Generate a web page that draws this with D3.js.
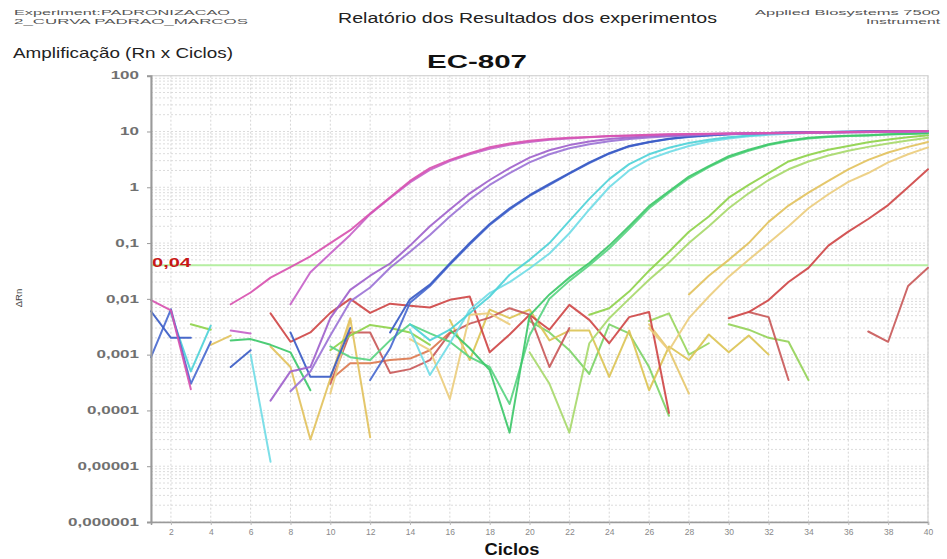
<!DOCTYPE html>
<html>
<head>
<meta charset="utf-8">
<script src="https://cdn.jsdelivr.net/npm/d3@7"></script>
<style>
  body { margin: 0; background: #fff; }
  text { font-family: "Liberation Sans", Arial, sans-serif; }
</style>
</head>
<body>
<svg id="chart" width="947" height="559"></svg>
<script>
// Amplification plot: ΔRn per cycle (log scale), one line per well
const n = null;

const cycles = [1,2,3,4,5,6,7,8,9,10,11,12,13,14,15,16,17,18,19,20,
                21,22,23,24,25,26,27,28,29,30,31,32,33,34,35,36,37,38,39,40];

const mag1 = [0.0095,0.0062,0.00024,n, 0.008,0.013,0.024,0.037,0.058,0.1,
              0.17,0.34,0.66,1.3,2.2, 3.1,4.1,5.2,6.1,6.8,
              7.3,7.7,8.0,8.3,8.5, 8.7,8.9,9.0,9.1,9.2,
              9.3,9.4,9.5,9.6,9.7, 9.8,9.9,10.0,10.1,10.2];
const mag2 = [n,n,n,n, 0.0027,0.0024,n,0.008,0.03,0.065,
              0.14,0.33,0.64,1.22,2.05, 2.95,3.9,4.9,5.8,6.5,
              7.1,7.5,7.9,8.2,8.4, 8.6,8.8,8.9,9.0,9.1,
              9.2,9.3,9.4,9.5,9.6, 9.7,9.8,9.9,10.0,10.1];
const pur1 = [n,n,n,n, n,n,0.00015,0.0005,0.0006,0.0045,
              0.0145,0.026,0.043,0.09,0.2, 0.4,0.78,1.35,2.2,3.4,
              4.6,5.7,6.6,7.3,7.8, 8.2,8.5,8.8,9.0,9.2,
              9.3,9.4,9.5,9.6,9.7, 9.8,9.9,10.0,10.1,10.2];
const pur2 = [n,n,n,n, n,n,n,0.00022,0.0005,0.0022,
              0.009,0.016,0.036,0.07,0.14, 0.3,0.6,1.1,1.8,2.8,
              3.9,5.0,5.9,6.7,7.3, 7.8,8.2,8.5,8.8,9.0,
              9.1,9.2,9.3,9.4,9.5, 9.6,9.7,9.8,9.9,10.0];
const blue1 = [0.006,0.002,0.002,n, 0.0006,0.0012,n,0.0025,0.0004,0.0004,
               0.003,n,0.0025,0.0098,0.018, 0.043,0.1,0.22,0.42,0.72,
               1.15,1.8,2.8,4.1,5.5, 6.5,7.4,8.1,8.6,8.9,
               9.2,9.4,9.6,9.7,9.8, 9.9,10.0,10.1,10.1,10.2];
const blue2 = [0.0009,0.0065,0.0003,0.0017, n,n,n,n,n,n,
               n,0.00035,0.0013,0.0085,0.017, 0.041,0.095,0.21,0.4,0.7,
               1.1,1.75,2.7,4.0,5.4, 6.4,7.3,8.0,8.5,8.9,
               9.2,9.4,9.5,9.7,9.8, 9.9,10.0,10.0,10.1,10.2];
const cyan1 = [n,0.0055,0.0005,0.0033, n,n,n,n,n,n,
               n,n,n,0.0035,0.0018, 0.0028,0.0055,0.011,0.027,0.05,
               0.1,0.25,0.62,1.4,2.6, 3.9,5.1,6.2,7.1,7.9,
               8.5,9.0,9.4,9.6,9.8, 9.9,10.0,10.1,10.1,10.2];
const cyan2 = [n,n,n,n, n,0.001,0.000012,n,n,n,
               n,n,n,0.0028,0.00043, 0.0016,0.0064,0.0127,0.02,0.035,
               0.065,0.15,0.4,1.0,2.0, 3.2,4.3,5.5,6.6,7.5,
               8.2,8.7,9.1,9.4,9.6, 9.8,9.9,10.0,10.1,10.1];
const green1 = [n,n,n,n, 0.0018,0.0019,0.0015,0.0011,0.00023,n,
                n,n,n,n,n, 0.0028,0.0013,0.00053,0.00004,0.005,
                0.012,0.024,0.044,0.09,0.2, 0.46,0.85,1.55,2.4,3.6,
                4.7,5.9,6.9,7.7,8.1, 8.4,8.6,8.9,9.1,9.4];
const green2 = [n,n,n,n, n,n,n,n,n,0.0014,
                0.0009,0.0008,0.0018,0.0035,0.0024, 0.0017,0.0009,0.0006,0.00013,0.0022,
                0.01,0.021,0.04,0.08,0.18, 0.42,0.8,1.45,2.3,3.4,
                4.5,5.7,6.7,7.5,8.0, 8.3,8.5,8.8,9.0,9.3];
const lgreen1 = [n,n,0.0035,0.0028, n,n,n,n,n,0.0012,
                 0.0022,0.0034,0.003,0.0025,0.0015, n,n,n,n,n,
                 n,n,0.0052,0.0068,0.0135, 0.032,0.07,0.16,0.3,0.65,
                 1.1,1.8,2.9,3.8,4.7, 5.5,6.4,7.2,7.9,8.6];
const lgreen2 = [n,n,n,n, n,n,n,n,n,n,
                 n,n,n,n,n, n,n,n,n,0.0011,
                 0.0003,0.00004,0.0016,0.0045,0.01, 0.022,0.045,0.1,0.2,0.42,
                 0.78,1.35,2.1,2.9,3.7, 4.5,5.3,6.1,6.9,7.7];
const yellow1 = [n,n,n,0.0015, 0.0022,n,0.0014,0.0006,0.00003,0.00037,
                 0.0045,0.000033,n,n,n, n,n,n,n,n,
                 n,n,n,n,n, n,n,0.012,0.026,0.05,
                 0.1,0.24,0.47,0.8,1.3, 2.1,3.1,4.2,5.3,6.5];
const yellow2 = [n,n,n,n, n,n,n,n,n,0.0002,
                 0.004,n,n,0.0019,0.0012, 0.00016,0.0052,0.0055,0.0035,n,
                 n,n,n,n,n, 0.003,0.0012,0.0045,0.011,0.025,
                 0.05,0.1,0.2,0.42,0.75, 1.25,1.8,2.8,3.9,5.2];
const red1 = [n,n,n,n, n,n,0.0055,0.0017,0.0025,0.0056,
              0.01,0.0056,0.0082,0.0075,0.007, 0.0096,0.011,0.0011,0.0023,0.0052,
              0.0028,0.0078,0.0042,0.0016,0.0047, 0.0058,0.00009,n,n,0.0045,
              0.0058,0.0095,0.02,0.036,0.09, 0.16,0.27,0.48,1.0,2.1];
const red2 = [n,n,n,n, n,n,n,n,n,0.0003,
              0.0025,0.0025,0.00047,0.00055,0.0008, 0.0024,0.0036,0.0046,0.0068,0.0052,
              0.0006,0.003,n,n,n, n,n,n,n,n,
              0.0058,0.0047,0.00035,n,n, n,0.0026,0.0017,0.017,0.036];
const orange1 = [n,n,n,n, n,n,n,n,n,0.00035,
                 0.0007,0.0007,0.0008,0.00085,0.0012, 0.0025,n,n,n,n,
                 n,n,n,n,n, n,n,n,n,n,
                 n,n,n,n,n, n,n,n,n,n];
const ntcY1 = [n,n,n,n, n,n,n,n,n,n,
               n,n,n,n,n, 0.0042,0.0008,0.0064,0.0045,0.0064,
               0.0018,0.0027,0.0027,0.0004,0.0027, 0.00023,0.0014,0.0008,0.0023,0.0011,
               0.0022,0.001,n,n,n, n,n,n,n,n];
const ntcY2 = [n,n,n,n, n,n,n,n,n,n,
               n,n,n,n,n, n,n,n,n,n,
               n,n,n,n,n, 0.0035,0.0012,0.0002,n,n,
               n,n,n,n,n, n,n,n,n,n];
const ntcG1 = [n,n,n,n, n,n,n,n,n,n,
               n,n,n,n,n, n,n,n,n,0.004,
               0.0025,0.0012,0.00045,0.0035,0.0024, 0.0006,0.00008,n,n,n,
               n,n,n,n,n, n,n,n,n,n];
const ntcG2 = [n,n,n,n, n,n,n,n,n,n,
               n,n,n,n,n, n,n,n,n,n,
               n,n,n,n,n, 0.004,0.0055,0.001,0.0016,n,
               n,n,n,n,n, n,n,n,n,n];
const ntcG3 = [n,n,n,n, n,n,n,n,n,n,
               n,n,n,n,n, n,n,n,n,n,
               n,n,n,n,n, n,n,n,n,0.0035,
               0.0028,0.002,0.0017,0.00035,n, n,n,n,n,n];

const threshold = 0.04;
const thresholdLabel = "0,04";

const yTickValues = [1e-6,1e-5,1e-4,1e-3,1e-2,1e-1,1,10,100];
const yTickLabels = ["0,000001","0,00001","0,0001","0,001","0,01","0,1","1","10","100"];
const xTickValues = [2,4,6,8,10,12,14,16,18,20,22,24,26,28,30,32,34,36,38,40];

// drawing order: late wells underneath, early wells on top
const series = [
  ["ntcG3", ntcG3], ["ntcG2", ntcG2], ["ntcG1", ntcG1], ["ntcY2", ntcY2], ["ntcY1", ntcY1],
  ["orange1", orange1], ["red2", red2], ["red1", red1],
  ["yellow2", yellow2], ["yellow1", yellow1],
  ["lgreen2", lgreen2], ["lgreen1", lgreen1],
  ["green2", green2], ["green1", green1],
  ["cyan2", cyan2], ["cyan1", cyan1],
  ["blue2", blue2], ["blue1", blue1],
  ["pur2", pur2], ["pur1", pur1],
  ["mag2", mag2], ["mag1", mag1]
];

const palette = {
  mag1: "#d852b0", mag2: "#c763c9",
  pur1: "#a062cc", pur2: "#9c74d6",
  blue1: "#3b5cc6", blue2: "#4a6ad0",
  cyan1: "#4fd3d8", cyan2: "#72dce6",
  green1: "#3ec86a", green2: "#5ad482",
  lgreen1: "#8fd24c", lgreen2: "#a8d96c",
  yellow1: "#e2c25e", yellow2: "#ebcd7e",
  red1: "#cf4848", red2: "#c95a5a", orange1: "#dc7a50",
  ntcY1: "#dcc456", ntcY2: "#e6c86e",
  ntcG1: "#7ed468", ntcG2: "#9ad660", ntcG3: "#96d25a"
};

const svg = d3.select("#chart");
svg.append("rect").attr("width", 947).attr("height", 559).attr("fill", "#fff");

const plotLeft = 151, plotRight = 928, plotTop = 75.7, plotBottom = 522;
const x = d3.scaleLinear().domain([1, 40]).range([plotLeft, plotRight]);
const y = d3.scaleLog().domain([1e-6, 100]).range([plotBottom, plotTop]);

// widen a text horizontally by a factor, keeping its anchor
function widen(sel, factor) {
  sel.each(function () {
    const w = this.getComputedTextLength();
    d3.select(this).attr("textLength", w * factor).attr("lengthAdjust", "spacingAndGlyphs");
  });
}

// grid
const grid = svg.append("g");
grid.selectAll("line.h").data(y.ticks()).join("line")
  .attr("x1", plotLeft).attr("x2", plotRight)
  .attr("y1", d => y(d)).attr("y2", d => y(d))
  .attr("stroke", "#dcdcdc").attr("stroke-width", 1).attr("stroke-dasharray", "2,2");
grid.selectAll("line.v").data(xTickValues).join("line")
  .attr("x1", d => x(d)).attr("x2", d => x(d))
  .attr("y1", plotTop).attr("y2", plotBottom)
  .attr("stroke", "#d6d6d6").attr("stroke-width", 1).attr("stroke-dasharray", "2,2");

// frame
svg.append("rect").attr("x", plotLeft).attr("y", plotTop)
  .attr("width", plotRight - plotLeft).attr("height", plotBottom - plotTop)
  .attr("fill", "none").attr("stroke", "#d4d4d4").attr("stroke-width", 1.2);

// threshold
svg.append("line").attr("x1", plotLeft).attr("x2", plotRight)
  .attr("y1", y(threshold)).attr("y2", y(threshold))
  .attr("stroke", "#b6efa2").attr("stroke-width", 2);

// curves
const line = d3.line()
  .defined(d => d.v != null)
  .x(d => x(d.c))
  .y(d => y(d.v));

const curves = svg.append("g").attr("fill", "none")
  .attr("stroke-width", 2).attr("stroke-linejoin", "round").attr("stroke-linecap", "round");
series.forEach(([key, vals]) => {
  const pts = cycles.map((c, i) => ({ c: c, v: vals[i] }));
  curves.append("path").datum(pts).attr("d", line)
    .attr("stroke", palette[key]).attr("stroke-opacity", 0.92);
});

// threshold label
svg.append("text").attr("x", plotLeft + 1).attr("y", y(threshold) + 2)
  .attr("font-family", "Liberation Serif, serif").attr("font-weight", "bold")
  .attr("font-size", 12).attr("fill", "#c81818")
  .attr("textLength", 39).attr("lengthAdjust", "spacingAndGlyphs")
  .text(thresholdLabel);

// axes
const yAxis = d3.axisLeft(y).tickValues(yTickValues)
  .tickFormat((d, i) => yTickLabels[i]).tickSize(4).tickPadding(8);
const gy = svg.append("g").attr("transform", `translate(${plotLeft},0)`).call(yAxis);
gy.select(".domain").attr("stroke", "#9a9a9a").attr("stroke-width", 2);
gy.selectAll(".tick line").attr("stroke", "#9a9a9a");
gy.selectAll(".tick text").attr("fill", "#707070").attr("font-size", 10)
  .attr("font-weight", "bold").attr("font-family", "Liberation Sans, Arial, sans-serif")
  .call(widen, 1.7);

const xAxis = d3.axisBottom(x).tickValues(xTickValues).tickSize(3).tickPadding(4);
const gx = svg.append("g").attr("transform", `translate(0,${plotBottom})`).call(xAxis);
gx.select(".domain").attr("stroke", "#9a9a9a").attr("stroke-width", 1.5);
gx.selectAll(".tick line").attr("stroke", "#bbb");
gx.selectAll(".tick text").attr("fill", "#888").attr("font-size", 8.5)
  .attr("font-family", "Liberation Sans, Arial, sans-serif");

// titles and header texts
svg.append("text").attr("x", 477).attr("y", 68).attr("text-anchor", "middle")
  .attr("font-weight", "bold").attr("font-size", 19).attr("fill", "#111")
  .attr("textLength", 100).attr("lengthAdjust", "spacingAndGlyphs").text("EC-807");

svg.append("text").attr("x", 512).attr("y", 555).attr("text-anchor", "middle")
  .attr("font-family", "Open Sans, sans-serif")
  .attr("font-weight", "bold").attr("font-size", 17).attr("fill", "#111")
  .attr("textLength", 55).attr("lengthAdjust", "spacingAndGlyphs").text("Ciclos");

svg.append("text").attr("transform", "translate(22,298) rotate(-90)")
  .attr("text-anchor", "middle").attr("font-size", 9.5).attr("fill", "#444")
  .text("ΔRn");

svg.append("text").attr("x", 13).attr("y", 58)
  .attr("font-family", "Open Sans, sans-serif").attr("font-size", 15).attr("fill", "#222")
  .attr("textLength", 220).attr("lengthAdjust", "spacingAndGlyphs")
  .text("Amplificação (Rn x Ciclos)");

svg.append("text").attr("x", 338).attr("y", 23)
  .attr("font-family", "Open Sans, sans-serif").attr("font-size", 15.5).attr("fill", "#222")
  .attr("textLength", 379).attr("lengthAdjust", "spacingAndGlyphs")
  .text("Relatório dos Resultados dos experimentos");

svg.append("text").attr("x", 14).attr("y", 15)
  .attr("font-size", 8).attr("fill", "#555")
  .attr("textLength", 216).attr("lengthAdjust", "spacingAndGlyphs")
  .text("Experiment:PADRONIZACAO");
svg.append("text").attr("x", 14).attr("y", 24)
  .attr("font-size", 8).attr("fill", "#555")
  .attr("textLength", 234).attr("lengthAdjust", "spacingAndGlyphs")
  .text("2_CURVA PADRAO_MARCOS");

svg.append("text").attr("x", 940).attr("y", 15).attr("text-anchor", "end")
  .attr("font-size", 8).attr("fill", "#555")
  .attr("textLength", 185).attr("lengthAdjust", "spacingAndGlyphs")
  .text("Applied Biosystems 7500");
svg.append("text").attr("x", 940).attr("y", 24).attr("text-anchor", "end")
  .attr("font-size", 8).attr("fill", "#555")
  .attr("textLength", 74).attr("lengthAdjust", "spacingAndGlyphs")
  .text("Instrument");
</script>
</body>
</html>
